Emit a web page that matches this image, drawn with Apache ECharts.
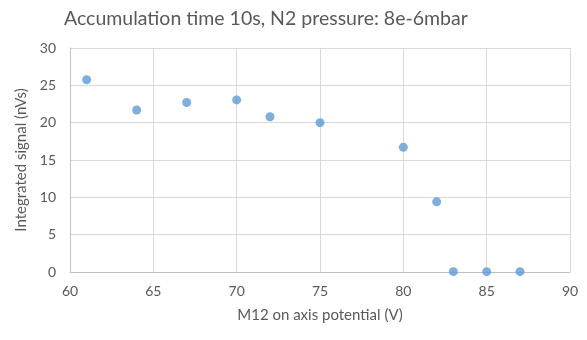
<!DOCTYPE html>
<html><head><meta charset="utf-8">
<script src="https://cdn.jsdelivr.net/npm/echarts@6/dist/echarts.min.js"></script>
<style>html,body{margin:0;padding:0;background:#fff}#c{width:587px;height:340px}</style>
</head><body><div id="c"></div>
<script>
const titleText = 'Accumulation time 10s, N2 pressure: 8e-6mbar';
const xName = 'M12 on axis potential (V)';
const yName = 'Integrated signal (nVs)';
const xValues = [61, 64, 67, 70, 72, 75, 80, 82, 83, 85, 87];
const yValues = [25.75, 21.7, 22.7, 23.05, 20.8, 20.0, 16.7, 9.4, 0.05, 0.05, 0.05];
const pts = xValues.map((x, i) => [x, yValues[i]]);
const font = 'Lato, "Open Sans", sans-serif';
const chart = echarts.init(document.getElementById('c'), null, {renderer: 'canvas'});
chart.setOption({
  animation: false,
  backgroundColor: '#fff',
  title: {text: titleText, left: 59, top: 4,
    textStyle: {fontFamily: font, fontSize: 19.5, fontWeight: 'normal', color: '#595959'}},
  grid: {left: 70, right: 17, top: 48, bottom: 68},
  xAxis: {type: 'value', min: 60, max: 90, interval: 5,
    name: xName, nameLocation: 'middle', nameGap: 36,
    nameTextStyle: {fontFamily: font, fontSize: 15, color: '#595959'},
    axisLine: {show: true, lineStyle: {color: '#bfbfbf'}},
    axisTick: {show: false},
    axisLabel: {fontFamily: font, fontSize: 14, color: '#595959', margin: 12},
    splitLine: {show: true, lineStyle: {color: '#d9d9d9'}}},
  yAxis: {type: 'value', min: 0, max: 30, interval: 5,
    name: yName, nameLocation: 'middle', nameGap: 37,
    nameTextStyle: {fontFamily: font, fontSize: 15, color: '#595959'},
    axisLine: {show: true, lineStyle: {color: '#bfbfbf'}},
    axisTick: {show: false},
    axisLabel: {fontFamily: font, fontSize: 14, color: '#595959', margin: 14},
    splitLine: {show: true, lineStyle: {color: '#d9d9d9'}}},
  series: [{type: 'scatter', data: pts, symbol: 'circle', symbolSize: 9,
    itemStyle: {color: '#5B9BD5'}}]
});
</script></body></html>
